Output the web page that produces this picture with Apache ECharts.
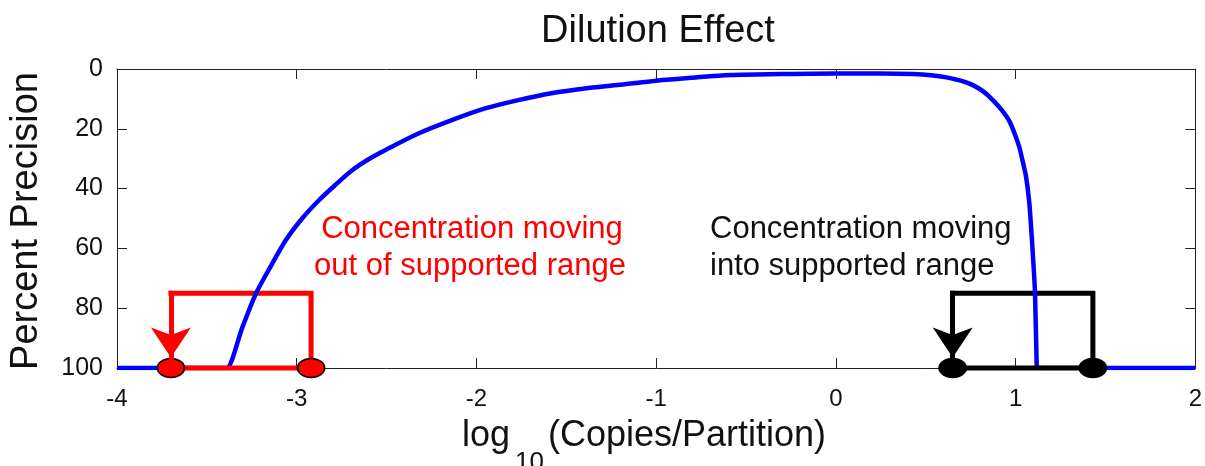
<!DOCTYPE html>
<html>
<head>
<meta charset="utf-8">
<script src="https://cdn.jsdelivr.net/npm/echarts@6/dist/echarts.min.js"></script>
<style>
  html, body { margin: 0; padding: 0; background: #fff; }
  #chart { width: 1205px; height: 466px; }
</style>
</head>
<body>
<div id="chart"></div>
<script>
// ---- data ----
const curveX = [-4, -3.395, -3.39, -3.3, -3.226, -3.14, -3.06, -2.97, -2.875, -2.78, -2.69, -2.6, -2.506, -2.32, -2.137, -1.952, -1.767, -1.583, -1.398, -1.2, -1.0, -0.8, -0.586, -0.3, 0.0, 0.25, 0.43, 0.53, 0.615, 0.70, 0.762, 0.82, 0.873, 0.92, 0.966, 1.0, 1.02, 1.04, 1.058, 1.075, 1.086, 1.098, 1.108, 1.117, 1.12, 1.125, 2];
const curveY = [100, 100, 100, 86, 75, 65.5, 57.2, 50, 43.8, 38.5, 33.8, 30.2, 27.1, 21.5, 17.1, 13.2, 10.4, 8.1, 6.5, 5.3, 3.9, 2.9, 2.0, 1.7, 1.5, 1.5, 1.7, 2.1, 2.8, 4.0, 5.4, 7.5, 10.4, 13.5, 17.5, 22.5, 26, 31, 36, 44, 52.7, 64, 75, 98.4, 100, 100, 100];

const xTickValues = [-4, -3, -2, -1, 0, 1, 2];
const yTickValues = [0, 20, 40, 60, 80, 100];

const redX = [-3.7, -2.92];     // red marker positions (log10 copies/partition)
const blackX = [0.65, 1.43];    // black marker positions
const boxTop = 75;              // top of the annotation boxes (percent precision)
const baseY = 100;              // baseline of markers
const arrowEnd = 96.5;          // arrow tip (percent precision)

const titleText = 'Dilution Effect';
const yName = 'Percent Precision';
const xNameParts = ['log', '10', '(Copies/Partition)'];
const redText = ['Concentration moving', 'out of supported range'];
const blackText = ['Concentration moving', 'into supported range'];

// ---- chart ----
const FONT = '"Liberation Sans", Arial, sans-serif';
const chart = echarts.init(document.getElementById('chart'), null, { renderer: 'canvas' });

function boxPath(xs) {
  return [[xs[1], baseY], [xs[1], boxTop], [xs[0], boxTop]];
}
function boxBase(xs) {
  return [[xs[0], baseY], [xs[1], baseY]];
}

function annotationSeries(xs, color, markerFill) {
  return [
    {
      type: 'line', data: boxPath(xs), z: 1, clip: false, symbol: 'none', silent: true,
      lineStyle: { color: color, width: 5, cap: 'square', join: 'miter' },
      markLine: {
        silent: true, animation: false,
        symbol: ['none', 'arrow'], symbolSize: [30, 30],
        lineStyle: { color: color, width: 5, type: 'solid', cap: 'square' },
        label: { show: false },
        data: [[{ coord: [xs[0], boxTop] }, { coord: [xs[0], arrowEnd] }]]
      }
    },
    {
      type: 'line', data: boxBase(xs), z: 3, clip: false, symbol: 'none', silent: true,
      lineStyle: { color: color, width: 5 }
    },
    {
      type: 'scatter', data: xs.map(x => [x, baseY]), z: 4, clip: false, silent: true,
      symbol: 'circle', symbolSize: [27, 19],
      itemStyle: { color: markerFill, borderColor: '#000', borderWidth: 1.5, opacity: 1 }
    }
  ];
}

function axisCommon() {
  return {
    axisLine: { show: true, onZero: false, lineStyle: { color: '#222', width: 1 } },
    axisTick: { show: true, inside: true, length: 10, lineStyle: { color: '#222', width: 1 } },
    splitLine: { show: false }
  };
}

const option = {
  backgroundColor: '#fff',
  animation: false,
  grid: { left: 117, right: 5, top: 69, bottom: 98, containLabel: false },
  xAxis: [
    Object.assign({
      type: 'value', position: 'bottom', min: -4, max: 2, interval: 1,
      axisLabel: { show: true, fontSize: 24, color: '#111', fontFamily: FONT, margin: 19,
        formatter: v => xTickValues.includes(v) ? String(v) : '' }
    }, axisCommon()),
    Object.assign({
      type: 'value', position: 'top', min: -4, max: 2, interval: 1,
      axisLabel: { show: false }
    }, axisCommon())
  ],
  yAxis: [
    Object.assign({
      type: 'value', position: 'left', inverse: true, min: 0, max: 100, interval: 20,
      axisLabel: { show: true, fontSize: 25, color: '#111', fontFamily: FONT, margin: 14,
        formatter: v => yTickValues.includes(v) ? String(v) : '' }
    }, axisCommon()),
    Object.assign({
      type: 'value', position: 'right', inverse: true, min: 0, max: 100, interval: 20,
      axisLabel: { show: false }
    }, axisCommon())
  ],
  series: [
    {
      type: 'line', name: 'precision', z: 2, symbol: 'none', silent: true,
      smooth: 0.3,
      data: curveX.map((x, i) => [x, curveY[i]]),
      lineStyle: { color: '#0000ff', width: 4.5 }
    },
    ...annotationSeries(redX, '#ff0000', '#ff0000'),
    ...annotationSeries(blackX, '#000000', '#000000')
  ],
  graphic: [
    { type: 'text', x: 658, y: 32, style: { text: titleText, font: '38px ' + FONT, fill: '#111', align: 'center', verticalAlign: 'middle' } },
    { type: 'text', x: 27, y: 221, rotation: Math.PI / 2, style: { text: yName, font: '38px ' + FONT, fill: '#111', align: 'center', verticalAlign: 'middle' } },
    { type: 'text', x: 462, y: 436, style: { text: xNameParts[0], font: '36px ' + FONT, fill: '#111', align: 'left', verticalAlign: 'middle' } },
    { type: 'text', x: 515, y: 463, style: { text: xNameParts[1], font: '26px ' + FONT, fill: '#111', align: 'left', verticalAlign: 'middle' } },
    { type: 'text', x: 548, y: 436, style: { text: xNameParts[2], font: '36px ' + FONT, fill: '#111', align: 'left', verticalAlign: 'middle' } },
    { type: 'text', x: 472, y: 229, style: { text: redText[0], font: '31px ' + FONT, fill: '#ff0000', align: 'center', verticalAlign: 'middle' } },
    { type: 'text', x: 470, y: 266, style: { text: redText[1], font: '31px ' + FONT, fill: '#ff0000', align: 'center', verticalAlign: 'middle' } },
    { type: 'text', x: 710, y: 229, style: { text: blackText[0], font: '31px ' + FONT, fill: '#111', align: 'left', verticalAlign: 'middle' } },
    { type: 'text', x: 710, y: 266, style: { text: blackText[1], font: '31px ' + FONT, fill: '#111', align: 'left', verticalAlign: 'middle' } }
  ]
};
chart.setOption(option);
</script>
</body>
</html>
